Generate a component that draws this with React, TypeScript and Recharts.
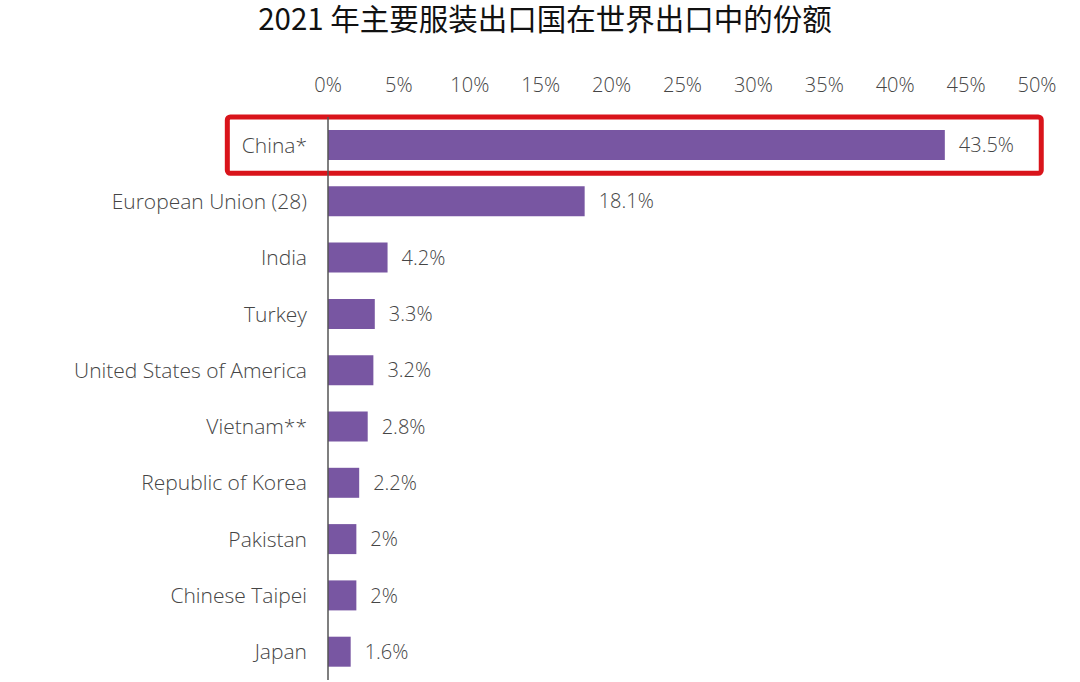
import React from 'react';
import { BarChart, Bar, XAxis, YAxis, LabelList, ReferenceArea } from 'recharts';

const countries = [
  'China*',
  'European Union (28)',
  'India',
  'Turkey',
  'United States of America',
  'Vietnam**',
  'Republic of Korea',
  'Pakistan',
  'Chinese Taipei',
  'Japan',
];
const shares = [43.5, 18.1, 4.2, 3.3, 3.2, 2.8, 2.2, 2, 2, 1.6];
const xTicks = [0, 5, 10, 15, 20, 25, 30, 35, 40, 45, 50];
const title = '2021 年主要服装出口国在世界出口中的份额';

const data = countries.map((c, i) => ({ country: c, share: shares[i] }));

const FONT = '"Open Sans", "Noto Sans", sans-serif';
const GRAY = '#454545';

export default function App() {
  return (
    <div style={{ position: 'absolute', left: 0, top: 0, width: 1080, height: 682, background: '#fff' }}>
      <div
        style={{
          position: 'absolute',
          left: 0,
          top: 2,
          width: 1090,
          textAlign: 'center',
          fontFamily: '"Noto Sans CJK SC", sans-serif',
          fontSize: 29.5,
          lineHeight: '30px',
          fontWeight: 400,
          color: '#111',
        }}
      >
        {title}
      </div>
      <BarChart
        width={1080}
        height={682}
        layout="vertical"
        data={data}
        margin={{ top: 87, right: 43, bottom: 2, left: 0 }}
        barSize={30}
      >
        <XAxis
          type="number"
          orientation="top"
          domain={[0, 50]}
          ticks={xTicks}
          tickFormatter={(v: number) => `${v}%`}
          axisLine={false}
          tickLine={false}
          height={30}
          tickMargin={19}
          tick={{ fill: GRAY, fontSize: 20, fontFamily: FONT, fontWeight: 300 }}
          interval={0}
        />
        <YAxis
          type="category"
          dataKey="country"
          width={328}
          tickLine={false}
          axisLine={{ stroke: '#555', strokeWidth: 1.5 }}
          tickMargin={15}
          tick={{ fill: GRAY, fontSize: 21, fontFamily: FONT, fontWeight: 300 }}
          interval={0}
        />
        <Bar dataKey="share" fill="#7856a2" isAnimationActive={false}>
          <LabelList
            dataKey="share"
            position="right"
            offset={14}
            formatter={(v: number) => `${v}%`}
            style={{ fill: GRAY, fontSize: 20, fontFamily: FONT, fontWeight: 300 }}
          />
        </Bar>
        <ReferenceArea
          y1="China*"
          y2="China*"
          x1={-7.1}
          x2={50.3}
          ifOverflow="visible"
          fill="none"
          fillOpacity={0}
          stroke="#d9141b"
          strokeWidth={5}
          radius={3}
        />
      </BarChart>
    </div>
  );
}
